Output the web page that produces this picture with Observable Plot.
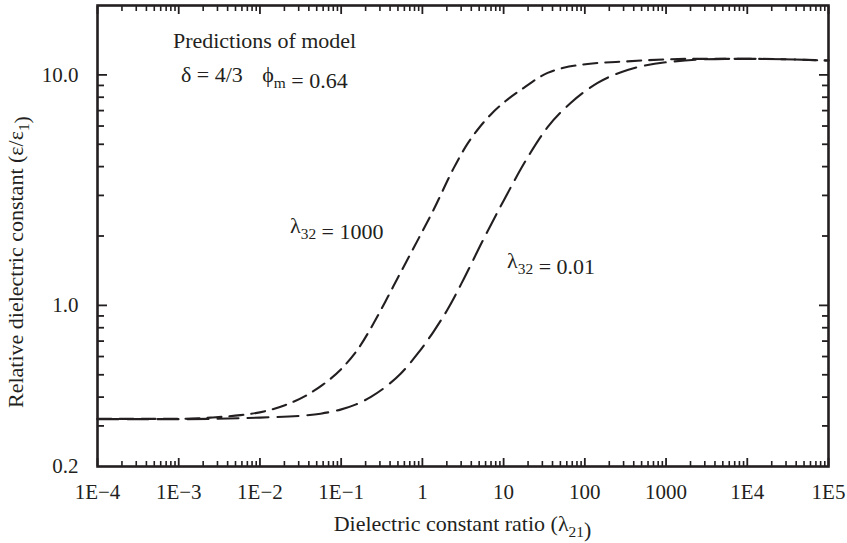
<!DOCTYPE html>
<html><head><meta charset="utf-8">
<script src="https://cdn.jsdelivr.net/npm/d3@7"></script>
<script src="https://cdn.jsdelivr.net/npm/@observablehq/plot@0.6"></script>
<style>body{margin:0;background:#fff} svg{display:block}</style>
</head><body><div id="chart"></div>
<script>
// λ32 = 1000 curve (short dashes)
const lambda21_high = [1e-4, 1.05e-3, 2.46e-3, 5.77e-3, 0.0117, 0.0207, 0.0364, 0.059, 0.0983, 0.159, 0.25, 0.373, 0.495, 0.779, 1.374, 2.42, 3.6, 4.78, 6.92, 10.58, 16.2, 34.8, 54.8, 88.8, 336, 2190, 1e4, 1e5];
const eps_high      = [0.322, 0.322, 0.326, 0.334, 0.348, 0.370, 0.405, 0.452, 0.526, 0.642, 0.834, 1.084, 1.312, 1.774, 2.60, 3.93, 5.03, 5.78, 6.72, 7.70, 8.60, 10.2, 10.73, 11.06, 11.45, 11.74, 11.74, 11.54];
// λ32 = 0.01 curve (long dashes)
const lambda21_low = [1e-4, 1e-3, 0.01, 0.0316, 0.0558, 0.0983, 0.150, 0.230, 0.352, 0.539, 0.873, 1.374, 2.04, 3.22, 5.67, 10, 19.75, 34.8, 66.9, 143.8, 336, 1139, 5740, 1e4, 1e5];
const eps_low      = [0.321, 0.321, 0.326, 0.332, 0.339, 0.353, 0.371, 0.400, 0.443, 0.505, 0.617, 0.770, 0.960, 1.299, 1.942, 2.845, 4.385, 5.93, 7.55, 9.23, 10.5, 11.4, 11.74, 11.74, 11.54];

const xMajorTicks = [1e-4, 1e-3, 1e-2, 1e-1, 1, 10, 100, 1000, 1e4, 1e5];
const xTickLabels = ["1E\u22124", "1E\u22123", "1E\u22122", "1E\u22121", "1", "10", "100", "1000", "1E4", "1E5"];
const yLabelTicks = [0.2, 1, 10];
const yTickLabels = ["0.2", "1.0", "10.0"];
const yMajorTicks = [1, 10];
const yMinorTicks = [0.3, 0.4, 0.5, 0.6, 0.7, 0.8, 0.9, 2, 3, 4, 5, 6, 7, 8, 9];
const xMinorTicks = d3.range(-4, 5).flatMap(k => [2,3,4,5,6,7,8,9].map(m => +(m * Math.pow(10, k)).toPrecision(3)));

const seriesHigh = lambda21_high.map((x, i) => ({x, y: eps_high[i]}));
const seriesLow = lambda21_low.map((x, i) => ({x, y: eps_low[i]}));

const INK = "#231f20";
const FONT = "'Liberation Serif', 'Times New Roman', serif";

const plot = Plot.plot({
  width: 847,
  height: 543,
  marginLeft: 97,
  marginRight: 19,
  marginTop: 5,
  marginBottom: 77,
  style: {fontFamily: FONT, color: INK, background: "#fff"},
  x: {type: "log", domain: [1e-4, 1e5]},
  y: {type: "log", domain: [0.2, 20]},
  marks: [
    Plot.axisX(xMinorTicks, {anchor: "bottom", tickSize: -5, strokeWidth: 1.6, tickFormat: () => "", label: null}),
    Plot.axisX(xMajorTicks, {anchor: "bottom", tickSize: -8, strokeWidth: 1.8, tickFormat: () => "", label: null}),
    Plot.axisX(xMinorTicks, {anchor: "top", tickSize: -5, strokeWidth: 1.6, tickFormat: () => "", label: null}),
    Plot.axisX(xMajorTicks, {anchor: "top", tickSize: -8, strokeWidth: 1.8, tickFormat: () => "", label: null}),
    Plot.axisY(yMinorTicks, {anchor: "left", tickSize: -7, strokeWidth: 1.8, tickFormat: () => "", label: null}),
    Plot.axisY(yMajorTicks, {anchor: "left", tickSize: -10, strokeWidth: 1.8, tickFormat: () => "", label: null}),
    Plot.axisY(yMinorTicks, {anchor: "right", tickSize: -7, strokeWidth: 1.8, tickFormat: () => "", label: null}),
    Plot.axisY(yMajorTicks, {anchor: "right", tickSize: -10, strokeWidth: 1.8, tickFormat: () => "", label: null}),
    Plot.axisX(xMajorTicks, {anchor: "bottom", tickSize: 0, tickPadding: 18, fontSize: 21, fill: INK,
      tickFormat: d => xTickLabels[xMajorTicks.indexOf(d)], label: null}),
    Plot.axisY(yLabelTicks, {anchor: "left", tickSize: 0, tickPadding: 19, fontSize: 21, fill: INK,
      tickFormat: d => yTickLabels[yLabelTicks.indexOf(d)], label: null}),
    Plot.line(seriesHigh, {x: "x", y: "y", curve: "monotone-x", stroke: INK, strokeWidth: 2.1, strokeDasharray: "14,8"}),
    Plot.line(seriesLow, {x: "x", y: "y", curve: "monotone-x", stroke: INK, strokeWidth: 2.1, strokeDasharray: "21,9"}),
    Plot.frame({stroke: INK, strokeWidth: 2.6})
  ]
});

document.getElementById("chart").appendChild(plot);

const sx = plot.scale("x"), sy = plot.scale("y");
const X = v => sx.apply ? sx.apply(v) : d3.scaleLog(sx.domain, sx.range)(v);
const Y = v => sy.apply ? sy.apply(v) : d3.scaleLog(sy.domain, sy.range)(v);
const svg = d3.select(plot);

function rich(sel, parts, size) {
  parts.forEach(([t, sub]) => {
    if (sub) {
      sel.append("tspan").attr("font-size", size * 0.7).attr("dy", 6).text(t);
      sel.append("tspan").attr("dy", -6).text("");
    } else {
      sel.append("tspan").text(t);
    }
  });
}
function label(x, y, parts, size = 22, anchor = "start") {
  const t = svg.append("text").attr("x", x).attr("y", y)
    .attr("font-family", FONT).attr("font-size", size).attr("fill", INK)
    .attr("text-anchor", anchor);
  rich(t, parts, size);
  return t;
}

label(X(8.6e-4), Y(13.0), [["Predictions of model"]]);
label(X(1.08e-3), Y(9.23), [["\u03b4 = 4/3"]]);
label(X(0.0108), Y(9.23), [["\u03d5"], ["m", true], [" = 0.64"]]);
label(X(0.0238), Y(2.06), [["\u03bb"], ["32", true], [" = 1000"]]);
label(X(11.2), Y(1.45), [["\u03bb"], ["32", true], [" = 0.01"]]);

label(462.5, 531, [["Dielectric constant ratio (\u03bb"], ["21", true], [")"]], 22, "middle");
const yt = svg.append("text").attr("transform", "translate(23,262) rotate(-90)")
  .attr("font-family", FONT).attr("font-size", 22).attr("fill", INK).attr("text-anchor", "middle");
rich(yt, [["Relative dielectric constant (\u03b5/\u03b5"], ["1", true], [")"]], 22);
</script>
</body></html>
